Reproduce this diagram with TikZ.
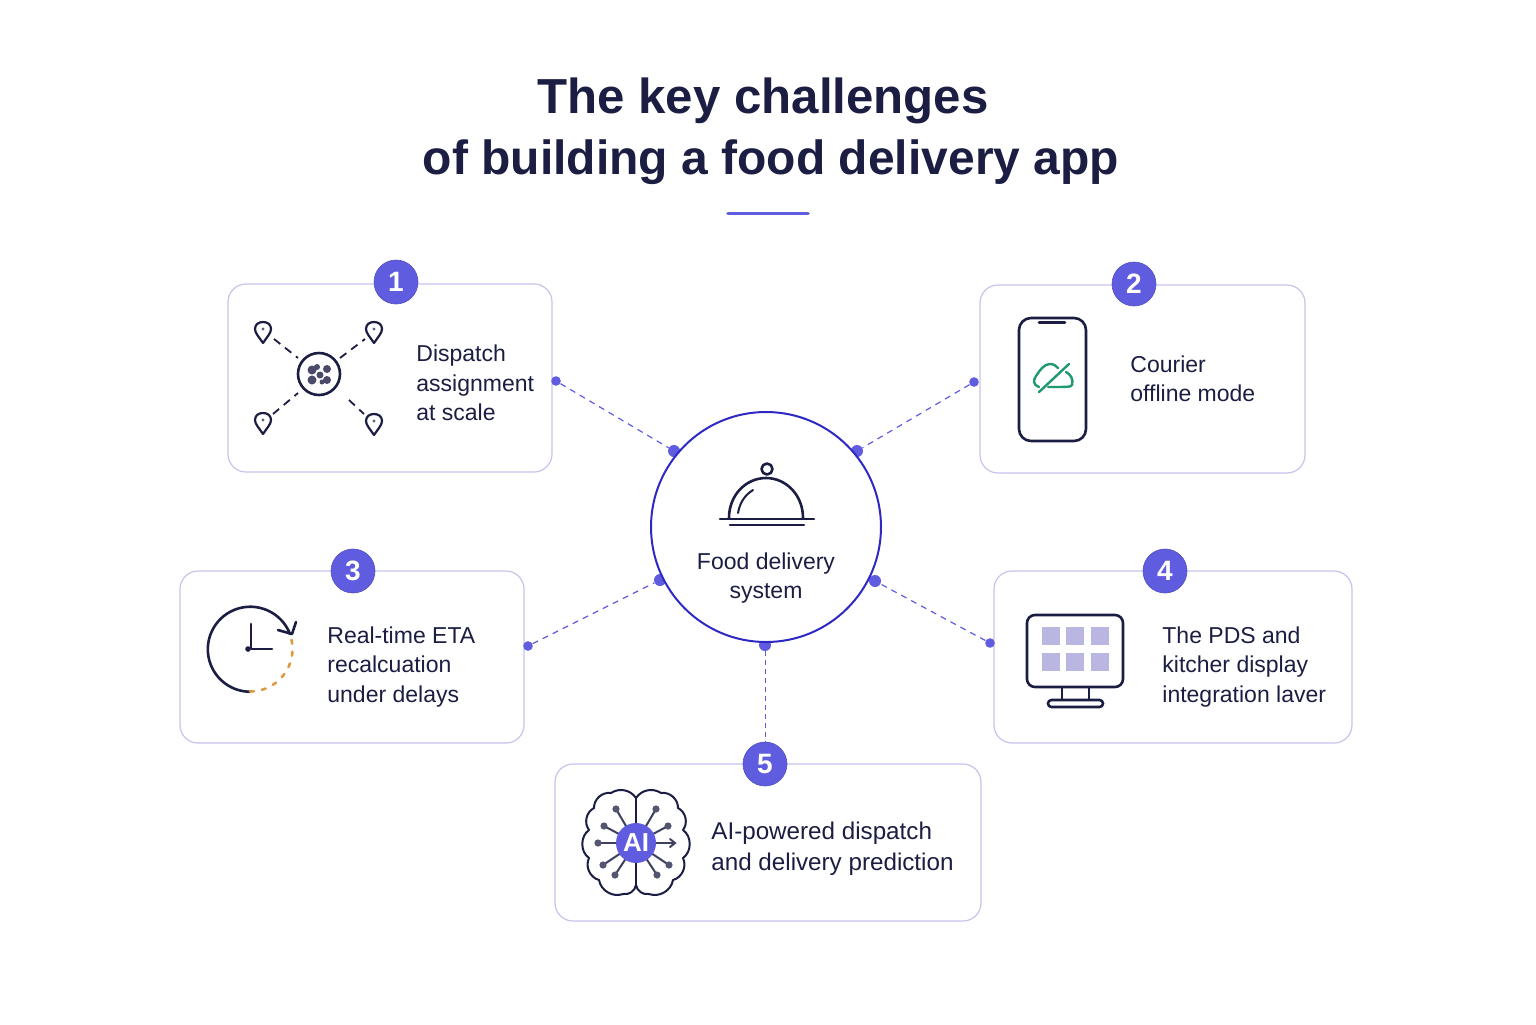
\documentclass[tikz,border=0pt]{standalone}
\usepackage{fontspec}
\setmainfont{Liberation Sans}

\definecolor{inkdark}{HTML}{1B1E42}
\definecolor{bluemark}{HTML}{5F5CE0}
\definecolor{cardedge}{HTML}{C6C3EC}
\definecolor{ringblue}{HTML}{2E28C4}
\definecolor{cloudgreen}{HTML}{1F9A6E}
\definecolor{delayorange}{HTML}{DD9A45}
\definecolor{tilelilac}{HTML}{B9B7E2}

\tikzset{
  card/.style={draw=cardedge,line width=0.6pt,fill=white,rounded corners=9pt},
  badge/.style={circle,fill=bluemark,draw=bluemark!85!black,line width=0.3pt,text=white,inner sep=0pt,minimum size=22pt,font=\fontsize{14}{14}\selectfont\bfseries},
  cardtext/.style={anchor=west,align=left,text=inkdark,inner sep=0pt,font=\fontsize{11.5}{14.7}\selectfont},
  titletext/.style={text=inkdark,inner sep=0pt,font=\fontsize{24}{30}\selectfont\bfseries},
  linkdot/.style={circle,fill=bluemark,inner sep=0pt,minimum size=4.8pt},
  hubdot/.style={circle,fill=bluemark,inner sep=0pt,minimum size=6pt},
  linkline/.style={draw=bluemark,line width=0.6pt,dash pattern=on 3pt off 2.6pt},
  iconline/.style={draw=inkdark,line width=1.3pt,line cap=round,line join=round},
  pinmark/.pic={
    \draw[iconline,line width=1.1pt] (0,11) .. controls (-4,5) and (-8,1) .. (-8,-3) .. controls (-8,-8) and (-4,-10) .. (0,-10)
      .. controls (4,-10) and (8,-8) .. (8,-3) .. controls (8,1) and (4,5) .. (0,11) -- cycle;
    \fill[inkdark!70] (0,-3) circle (1.7);
  },
}

\begin{document}
\begin{tikzpicture}[x=0.5pt,y=-0.5pt]
\useasboundingbox (0,0) rectangle (1536,1024);

% Title
\node[titletext,font=\fontsize{24.6}{30}\selectfont\bfseries] (title1) at (763,101) {The key challenges};
\node[titletext] (title2) at (771,162) {of building a food delivery app};
\draw[bluemark,line width=1.8pt,line cap=round] (728,213.5)--(808,213.5);

% Cards
\draw[card] (228,284) rectangle (552,472);
\draw[card] (980,285) rectangle (1305,473);
\draw[card] (180,571) rectangle (524,743);
\draw[card] (994,571) rectangle (1352,743);
\draw[card] (555,764) rectangle (981,921);

% Badges
\node[badge] (badge1) at (396,282) {1};
\node[badge] (badge2) at (1134,284) {2};
\node[badge] (badge3) at (353,571) {3};
\node[badge] (badge4) at (1165,571) {4};
\node[badge] (badge5) at (765,764) {5};

% Card labels
\node[cardtext] (label1) at (416,383) {Dispatch\\assignment\\at scale};
\node[cardtext] (label2) at (1130,379) {Courier\\offline mode};
\node[cardtext] (label3) at (327,667) {Real-time ETA\\recalcuation\\under delays};
\node[cardtext] (label4) at (1162,667) {The PDS and\\kitcher display\\integration laver};
\node[cardtext,font=\fontsize{12.1}{15.4}\selectfont] (label5) at (711,849) {AI-powered dispatch\\and delivery prediction};

% Links between the hub and the cards
\foreach \nm/\xa/\ya/\xb/\yb in {a/556/381/674/451,b/974/382/857/451,c/528/646/660/580,d/990/643/875/581}{
  \node[linkdot] (\nm out) at (\xa,\ya) {};
  \node[hubdot] (\nm in) at (\xb,\yb) {};
  \draw[linkline] (\nm out)--(\nm in);
}
\node[hubdot] (e in) at (765,645) {};
\draw[linkline,line width=0.5pt,dash pattern=on 2.5pt off 2pt] (e in)--(badge5);

% Central circle
\node[circle,draw=ringblue,line width=1pt,fill=white,minimum size=115pt,inner sep=0pt] (hub) at (766,527) {};
\node[text=inkdark,align=center,inner sep=0pt,font=\fontsize{11.5}{14.4}\selectfont] (hubtext) at (766,578) {Food delivery\\system};

% Dome
\draw[iconline] (767,469) circle (5.5);
\draw[iconline] (729,518) .. controls (729,495) and (746,478) .. (766,478) .. controls (786,478) and (803,495) .. (803,518);
\draw[iconline,line width=1pt] (738,513) .. controls (740,502) and (745,495) .. (753,490);
\draw[iconline] (720,519)--(814,519);
\draw[iconline] (730,525)--(804,525);

% Icon 1: pins around a ring
\draw[iconline] (319,374) circle (21);
\foreach \px/\py in {263/332,374/332,263/423,374/424}{
  \pic at (\px,\py) {pinmark};
}
\foreach \xa/\ya/\xb/\yb in {274/339/298/358,340/358/365/339,273/414/298/393,349/400/364/414}{
  \draw[iconline,line width=0.9pt,dash pattern=on 4pt off 3pt,line cap=butt] (\xa,\ya)--(\xb,\yb);
}
\foreach \bx/\by/\br in {312/370/4.5,312/380/4.5,320/375/3.5,327/369/4,327/380/4,317/367/3,322/382/2.5}{
  \fill[inkdark!80] (\bx,\by) circle (\br);
}

% Icon 2: phone with crossed cloud
\draw[iconline,rounded corners=6pt] (1019,318) rectangle (1086,441);
\draw[iconline] (1039,322.5)--(1065,322.5);
\draw[cloudgreen,line width=1.2pt,line cap=round,line join=round]
  (1039,387) .. controls (1033,385) and (1033,380) .. (1036,376) .. controls (1040,370) and (1044,364) .. (1050,364)
  .. controls (1054,364) and (1056,366) .. (1058,368);
\draw[cloudgreen,line width=1.2pt,line cap=round,line join=round]
  (1066,372) .. controls (1070,374) and (1074,379) .. (1072,385) .. controls (1071,387) and (1068,387) .. (1048,387);
\draw[cloudgreen,line width=1.2pt,line cap=round] (1039,392)--(1069,364);

% Icon 3: clock
\draw[iconline] (290,634) arc[start angle=-21,end angle=-270,radius=42.5];
\draw[delayorange,line width=1.3pt,dash pattern=on 2pt off 4pt,line cap=round] (250,691.5) arc[start angle=90,end angle=-15,radius=42.5];
\draw[iconline] (278,630)--(292,634)--(296,622);
\draw[iconline] (251,624)--(251,649)--(272,649);
\fill[inkdark] (248,649) circle (2.8);

% Icon 4: monitor
\draw[iconline,rounded corners=4pt] (1027,615) rectangle (1123,687);
\foreach \tx in {1042,1066,1091}{
  \foreach \ty in {627,653}{
    \fill[tilelilac] (\tx,\ty) rectangle ++(18,18);
  }
}
\draw[iconline] (1062,687)--(1062,700);
\draw[iconline] (1089,687)--(1089,700);
\draw[iconline,rounded corners=1.7pt] (1048,700) rectangle (1103,707);

% Icon 5: brain
\begin{scope}[shift={(636,843)}]
  \foreach \sx in {1,-1}{
    \begin{scope}[xscale=\sx]
      \draw[iconline,line width=1pt] (0,-45) to[bend left=45] (25,-50) to[bend left=50] (42,-35) to[bend left=50] (47,-13)
        to[bend left=55] (47,15) to[bend left=50] (37,37) to[bend left=50] (13,51) to[bend left=45] (0,42);
      \foreach \ex/\ey in {20/-34,32/-17,33/22,21/32}{
        \draw[inkdark!85,line width=1pt] (0,0)--(\ex,\ey);
        \fill[inkdark!75] (\ex,\ey) circle (3.6);
      }
    \end{scope}
  }
  \draw[inkdark!85,line width=1pt] (-38,0)--(38,0);
  \fill[inkdark!75] (-38,0) circle (3.6);
  \draw[inkdark!85,line width=1pt,line cap=round] (34,-4)--(39,0)--(34,4);
  \draw[iconline,line width=1pt] (0,-45)--(0,44);
  \node[circle,fill=bluemark,minimum size=20pt,inner sep=0pt,text=white,font=\fontsize{13}{13}\selectfont\bfseries] (aicore) at (0,0) {AI};
\end{scope}

\end{tikzpicture}
\end{document}
